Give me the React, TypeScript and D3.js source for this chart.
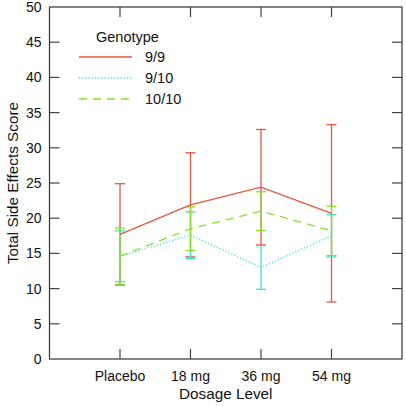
import React from "react";
import * as d3 from "d3";

const categories = ["Placebo", "18 mg", "36 mg", "54 mg"];
const yTicks = [0, 5, 10, 15, 20, 25, 30, 35, 40, 45, 50];
const seriesNames = ["9/9", "9/10", "10/10"];
const mean99 = [17.7, 21.9, 24.4, 20.7];
const err99 = [7.2, 7.4, 8.2, 12.6];
const mean910 = [14.6, 17.6, 13.0, 17.5];
const err910 = [3.6, 3.3, 3.1, 3.0];
const mean1010 = [14.6, 18.5, 21.0, 18.2];
const err1010 = [4.0, 3.1, 2.75, 3.5];

const colors = ["#e8573a", "#3ee0cc", "#88e02c"];
const dashes = ["", "1.2,2", "8,6"];

export default function App() {
  const W = 406, H = 406;
  const left = 49.5, right = 402, top = 7, bottom = 359;
  const x = d3.scaleLinear().domain([0, 5]).range([left, right]);
  const y = d3.scaleLinear().domain([0, 50]).range([bottom, top]);
  const series = [
    { name: seriesNames[0], mean: mean99, err: err99 },
    { name: seriesNames[1], mean: mean910, err: err910 },
    { name: seriesNames[2], mean: mean1010, err: err1010 },
  ];
  const line = d3.line<number>().x((_, i) => x(i + 1)).y((d) => y(d));
  const font = "'Liberation Sans', Arial, Helvetica, sans-serif";
  const tl = 10;
  const capW = 5;
  return (
    <svg width={W} height={H} style={{ position: "absolute", left: 0, top: 0 }} fontFamily={font}>
      <rect x={0} y={0} width={W} height={H} fill="white" />
      {/* frame */}
      <rect x={left} y={top} width={right - left} height={bottom - top} fill="none" stroke="#333" strokeWidth={1.2} />
      {/* y ticks */}
      {yTicks.map((t) => (
        <g key={"y" + t}>
          {t > 0 && t < 50 && (
            <>
              <line x1={left} x2={left + tl} y1={y(t)} y2={y(t)} stroke="#444" strokeWidth={1.2} />
              <line x1={right} x2={right - tl} y1={y(t)} y2={y(t)} stroke="#444" strokeWidth={1.2} />
            </>
          )}
          <text x={left - 8} y={y(t)} dy="0.36em" textAnchor="end" fontSize={14} fill="#111">
            {t}
          </text>
        </g>
      ))}
      {/* x ticks */}
      {categories.map((c, i) => (
        <g key={c}>
          <line x1={x(i + 1)} x2={x(i + 1)} y1={bottom} y2={bottom - tl} stroke="#444" strokeWidth={1.2} />
          <line x1={x(i + 1)} x2={x(i + 1)} y1={top} y2={top + tl} stroke="#444" strokeWidth={1.2} />
          <text x={x(i + 1)} y={381} textAnchor="middle" fontSize={14} fill="#111">
            {c}
          </text>
        </g>
      ))}
      <text x={(left + right) / 2} y={399} textAnchor="middle" fontSize={15.3} fill="#111">
        Dosage Level
      </text>
      <text transform={`translate(18,${(top + bottom) / 2}) rotate(-90)`} textAnchor="middle" fontSize={15.3} fill="#111">
        Total Side Effects Score
      </text>
      {/* error bars */}
      {series.map((s, si) => (
        <g key={"e" + si} stroke={colors[si]} strokeWidth={1.3}>
          {s.mean.map((m, i) => {
            const cx = x(i + 1);
            const y1 = y(m + s.err[i]);
            const y2 = y(m - s.err[i]);
            return (
              <g key={i}>
                <line x1={cx} x2={cx} y1={y1} y2={y2} />
                <line x1={cx - capW} x2={cx + capW} y1={y1} y2={y1} />
                <line x1={cx - capW} x2={cx + capW} y1={y2} y2={y2} />
              </g>
            );
          })}
        </g>
      ))}
      {/* lines */}
      {series.map((s, si) => (
        <path key={"l" + si} d={line(s.mean) || ""} fill="none" stroke={colors[si]} strokeWidth={1.3} strokeDasharray={dashes[si]} />
      ))}
      {/* legend */}
      <text x={96} y={42} fontSize={14.5} fill="#111">
        Genotype
      </text>
      {series.map((s, si) => (
        <g key={"lg" + si}>
          <line x1={79} x2={132} y1={57 + si * 21} y2={57 + si * 21} stroke={colors[si]} strokeWidth={1.3} strokeDasharray={dashes[si]} />
          <text x={145} y={57 + si * 21} dy="0.36em" fontSize={14.5} fill="#111">
            {s.name}
          </text>
        </g>
      ))}
    </svg>
  );
}
